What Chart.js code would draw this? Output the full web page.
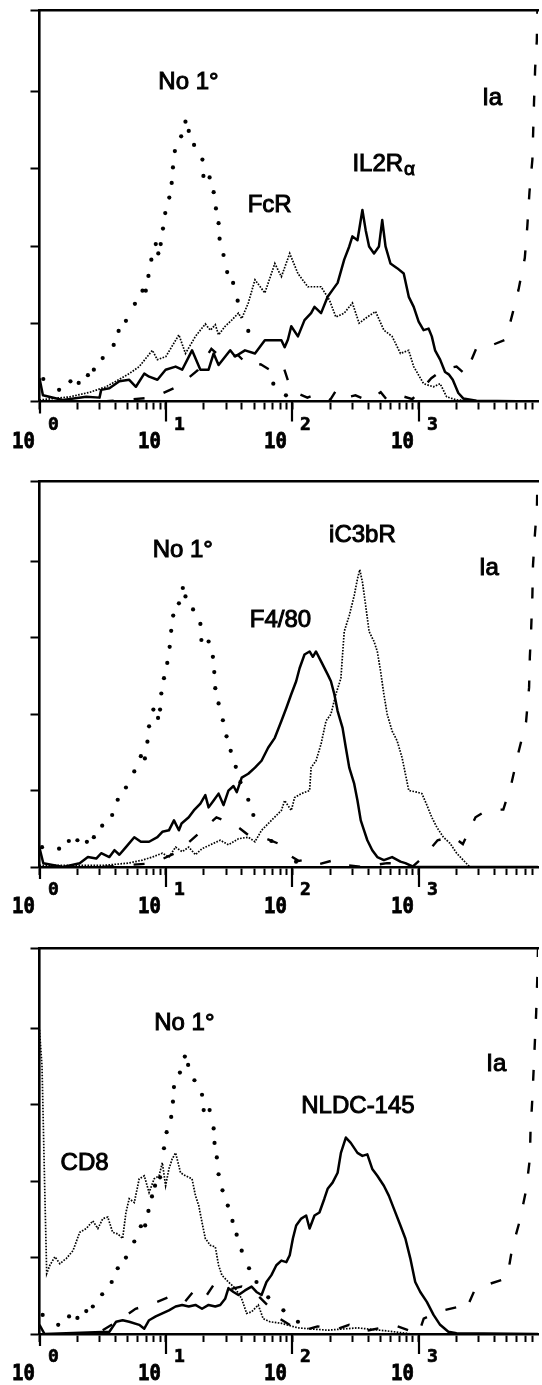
<!DOCTYPE html>
<html>
<head>
<meta charset="utf-8">
<script src="https://cdn.jsdelivr.net/npm/chart.js@4/dist/chart.umd.min.js"></script>
<style>
  html, body { margin: 0; padding: 0; background: #fff; }
  body { width: 542px; height: 1385px; position: relative; overflow: hidden; }
  canvas { position: absolute; left: 0; }
</style>
</head>
<body>
<canvas id="p1" width="542" height="466" style="top:0px"></canvas>
<canvas id="p2" width="542" height="466" style="top:466px"></canvas>
<canvas id="p3" width="542" height="453" style="top:932px"></canvas>
<script>
// each curve: [log10 fluorescence, relative cell number]

// --- top panel: No 1°, FcR, IL2Ra, Ia
const noPrimaryA = [[0.03,0.29],[0.155,0.15],[0.245,0.26],[0.31,0.24],[0.383,0.34],[0.43,0.41],[0.5,0.56],[0.587,0.73],[0.626,0.91],[0.684,1.04],[0.755,1.26],[0.815,1.43],[0.841,1.43],[0.862,1.62],[0.885,1.83],[0.92,2.03],[0.94,1.91],[0.959,2.03],[0.977,2.23],[0.995,2.43],[1.027,2.63],[1.046,2.82],[1.056,3.02],[1.071,3.23],[1.121,3.42],[1.155,3.61],[1.181,3.49],[1.223,3.31],[1.289,3.12],[1.297,2.91],[1.346,2.89],[1.378,2.7],[1.396,2.49],[1.417,2.3],[1.425,2.1],[1.456,1.89],[1.485,1.67],[1.532,1.53],[1.568,1.3],[1.652,0.91],[1.85,0.23],[1.95,0.08]];
const fcrA = [[0.0,0.02],[0.24,0.06],[0.4,0.12],[0.527,0.19],[0.71,0.36],[0.789,0.45],[0.893,0.66],[0.933,0.54],[1.0,0.58],[1.103,0.86],[1.155,0.62],[1.234,0.84],[1.312,1.0],[1.352,0.92],[1.391,0.99],[1.417,0.86],[1.469,0.97],[1.521,1.05],[1.574,1.14],[1.6,1.07],[1.652,1.27],[1.705,1.57],[1.783,1.4],[1.862,1.78],[1.914,1.61],[1.98,1.91],[2.045,1.65],[2.123,1.48],[2.228,1.48],[2.294,1.31],[2.345,1.09],[2.411,1.14],[2.476,1.27],[2.529,1.01],[2.594,1.09],[2.659,1.16],[2.725,0.92],[2.79,0.84],[2.856,0.62],[2.921,0.66],[2.961,0.45],[3.039,0.23],[3.118,0.19],[3.17,0.23],[3.222,0.06],[3.3,0.02],[3.6,0.0]];
const il2rA = [[0.0,0.3],[0.027,0.08],[0.184,0.02],[0.37,0.06],[0.475,0.05],[0.488,0.15],[0.553,0.17],[0.632,0.26],[0.71,0.28],[0.763,0.19],[0.829,0.36],[0.868,0.32],[0.933,0.28],[0.998,0.41],[1.077,0.45],[1.129,0.41],[1.207,0.66],[1.273,0.41],[1.338,0.41],[1.378,0.62],[1.417,0.47],[1.509,0.66],[1.548,0.58],[1.626,0.66],[1.705,0.62],[1.783,0.79],[1.862,0.79],[1.914,0.79],[1.94,0.7],[1.966,0.8],[1.992,0.97],[2.045,0.84],[2.097,1.05],[2.149,1.14],[2.176,1.22],[2.228,1.14],[2.28,1.35],[2.319,1.44],[2.359,1.53],[2.411,1.83],[2.451,2.0],[2.476,2.13],[2.516,2.08],[2.555,2.47],[2.581,2.21],[2.608,2.0],[2.647,1.91],[2.686,2.0],[2.712,2.34],[2.738,2.0],[2.777,1.78],[2.83,1.72],[2.882,1.65],[2.922,1.35],[2.961,1.22],[3.0,1.03],[3.039,0.92],[3.079,0.94],[3.104,0.84],[3.13,0.66],[3.17,0.54],[3.209,0.38],[3.238,0.35],[3.27,0.28],[3.314,0.11],[3.353,0.04],[3.458,0.01],[3.944,0.0]];
const iaA = [[0.5,0.0],[0.9,0.05],[1.1,0.2],[1.25,0.4],[1.36,0.68],[1.45,0.55],[1.57,0.6],[1.66,0.45],[1.75,0.48],[1.85,0.38],[1.93,0.45],[1.98,0.2],[2.05,0.1],[2.12,0.05],[2.2,0.1],[2.3,0.02],[2.35,0.15],[2.42,0.05],[2.5,0.08],[2.6,0.01],[2.7,0.12],[2.75,0.02],[2.85,0.08],[2.95,0.03],[3.02,0.15],[3.1,0.3],[3.2,0.42],[3.3,0.45],[3.37,0.35],[3.46,0.7],[3.57,0.72],[3.69,0.8],[3.744,1.14],[3.79,1.44],[3.84,1.85],[3.86,2.26],[3.877,2.7],[3.9,3.12],[3.913,3.86],[3.922,4.3],[3.935,4.65],[3.945,5.5]];

// --- middle panel: No 1°, F4/80, iC3bR, Ia
const noPrimaryB = [[0.02,0.26],[0.155,0.24],[0.232,0.34],[0.3,0.35],[0.375,0.33],[0.43,0.39],[0.496,0.54],[0.575,0.68],[0.619,0.88],[0.684,1.04],[0.75,1.25],[0.802,1.45],[0.834,1.42],[0.854,1.64],[0.867,1.84],[0.901,2.06],[0.938,1.95],[0.954,2.06],[0.964,2.27],[0.985,2.47],[1.011,2.67],[1.03,2.88],[1.042,3.09],[1.058,3.29],[1.103,3.45],[1.134,3.65],[1.155,3.54],[1.215,3.37],[1.273,3.18],[1.281,2.97],[1.338,2.95],[1.372,2.75],[1.383,2.55],[1.391,2.34],[1.417,2.14],[1.451,1.92],[1.48,1.71],[1.513,1.52],[1.553,1.31],[1.59,1.11],[1.652,0.88],[1.692,0.68],[1.835,0.34],[2.03,0.07]];
const f480B = [[0.0,0.25],[0.03,0.05],[0.187,0.0],[0.318,0.05],[0.383,0.13],[0.449,0.11],[0.488,0.18],[0.553,0.13],[0.593,0.22],[0.632,0.16],[0.684,0.26],[0.75,0.39],[0.802,0.33],[0.867,0.33],[0.933,0.39],[0.972,0.46],[1.024,0.48],[1.064,0.61],[1.103,0.48],[1.124,0.57],[1.181,0.65],[1.221,0.74],[1.273,0.83],[1.312,0.94],[1.338,0.78],[1.378,0.87],[1.417,0.96],[1.456,0.81],[1.495,1.0],[1.535,1.06],[1.561,0.98],[1.6,1.17],[1.652,1.22],[1.705,1.3],[1.757,1.39],[1.809,1.56],[1.862,1.69],[1.914,1.91],[1.953,2.08],[1.992,2.26],[2.031,2.43],[2.058,2.6],[2.097,2.78],[2.137,2.82],[2.163,2.75],[2.188,2.82],[2.228,2.69],[2.28,2.52],[2.306,2.43],[2.333,2.26],[2.359,2.04],[2.398,1.82],[2.424,1.56],[2.451,1.3],[2.49,1.09],[2.516,0.87],[2.542,0.61],[2.568,0.48],[2.594,0.35],[2.633,0.22],[2.673,0.13],[2.725,0.09],[2.79,0.13],[2.856,0.07],[2.895,0.05],[2.961,0.0],[3.944,0.0]];
const ic3brB = [[0.0,0.02],[0.5,0.02],[0.7,0.05],[0.815,0.09],[0.893,0.13],[0.972,0.18],[1.024,0.13],[1.077,0.26],[1.129,0.2],[1.181,0.26],[1.234,0.16],[1.286,0.24],[1.352,0.29],[1.43,0.35],[1.495,0.29],[1.574,0.37],[1.652,0.39],[1.705,0.33],[1.757,0.48],[1.835,0.61],[1.914,0.74],[1.94,0.87],[1.992,0.74],[2.019,0.91],[2.071,0.96],[2.137,1.0],[2.149,1.3],[2.188,1.39],[2.228,1.61],[2.267,1.91],[2.306,2.0],[2.345,2.26],[2.385,2.47],[2.411,3.08],[2.451,3.29],[2.49,3.55],[2.516,3.77],[2.534,3.89],[2.555,3.73],[2.581,3.42],[2.608,3.08],[2.647,2.95],[2.673,2.82],[2.699,2.56],[2.725,2.26],[2.751,2.0],[2.79,1.78],[2.83,1.65],[2.869,1.43],[2.895,1.22],[2.922,1.0],[2.987,0.98],[3.026,0.96],[3.065,0.81],[3.104,0.65],[3.144,0.52],[3.196,0.39],[3.248,0.31],[3.301,0.18],[3.353,0.09],[3.405,0.0],[3.944,0.0]];
const iaB = [[0.5,0.0],[0.9,0.05],[1.1,0.2],[1.3,0.5],[1.4,0.65],[1.55,0.55],[1.65,0.42],[1.78,0.38],[1.9,0.3],[1.98,0.15],[2.05,0.08],[2.12,0.1],[2.2,0.03],[2.35,0.1],[2.45,0.02],[2.55,0.0],[2.75,0.05],[2.82,0.05],[2.95,0.0],[3.05,0.15],[3.15,0.35],[3.27,0.4],[3.35,0.3],[3.45,0.65],[3.55,0.75],[3.67,0.75],[3.735,1.1],[3.79,1.5],[3.85,1.9],[3.874,2.35],[3.88,2.75],[3.89,3.1],[3.9,3.55],[3.905,3.95],[3.92,4.35],[3.936,4.7],[3.945,5.5]];

// --- bottom panel: No 1°, CD8, NLDC-145, Ia
const noPrimaryC = [[0.025,0.25],[0.148,0.12],[0.234,0.23],[0.3,0.21],[0.37,0.3],[0.422,0.36],[0.496,0.52],[0.571,0.68],[0.619,0.86],[0.684,1.0],[0.75,1.21],[0.802,1.41],[0.836,1.42],[0.862,1.61],[0.89,1.8],[0.914,1.94],[0.954,2.05],[0.985,2.43],[1.006,2.64],[1.042,2.84],[1.056,3.04],[1.064,3.23],[1.111,3.42],[1.15,3.63],[1.176,3.52],[1.226,3.32],[1.286,3.13],[1.299,2.93],[1.346,2.93],[1.378,2.69],[1.385,2.5],[1.403,2.31],[1.417,2.09],[1.448,1.88],[1.49,1.68],[1.527,1.48],[1.56,1.3],[1.6,1.09],[1.658,0.86],[1.717,0.68],[1.81,0.48],[1.93,0.31],[2.045,0.16]];
const cd8C = [[0.0,3.98],[0.02,3.5],[0.04,2.0],[0.057,0.79],[0.082,0.9],[0.122,1.01],[0.161,0.92],[0.213,0.99],[0.265,1.09],[0.318,1.33],[0.37,1.38],[0.422,1.48],[0.462,1.38],[0.501,1.51],[0.54,1.53],[0.579,1.33],[0.619,1.31],[0.658,1.25],[0.684,1.59],[0.71,1.77],[0.75,1.72],[0.789,2.03],[0.829,2.07],[0.867,1.85],[0.907,2.03],[0.946,2.07],[0.972,2.24],[0.998,1.94],[1.024,2.16],[1.05,2.29],[1.077,2.37],[1.116,2.11],[1.155,2.07],[1.207,2.03],[1.234,1.81],[1.26,1.68],[1.286,1.46],[1.312,1.25],[1.352,1.16],[1.391,1.14],[1.417,0.9],[1.443,0.77],[1.495,0.68],[1.548,0.6],[1.6,0.46],[1.639,0.27],[1.678,0.29],[1.731,0.38],[1.77,0.2],[1.823,0.16],[1.914,0.14],[2.045,0.08],[2.28,0.05],[2.516,0.08],[2.75,0.04],[2.95,0.0],[3.944,0.0]];
const nldcC = [[0.0,0.12],[0.04,0.0],[0.553,0.03],[0.606,0.16],[0.658,0.18],[0.71,0.16],[0.789,0.12],[0.829,0.07],[0.867,0.18],[0.92,0.23],[0.972,0.27],[1.024,0.31],[1.077,0.36],[1.129,0.38],[1.181,0.36],[1.234,0.38],[1.286,0.33],[1.338,0.38],[1.391,0.36],[1.43,0.38],[1.469,0.46],[1.495,0.6],[1.535,0.55],[1.574,0.51],[1.626,0.57],[1.678,0.62],[1.717,0.55],[1.757,0.51],[1.796,0.68],[1.835,0.77],[1.874,0.9],[1.914,0.96],[1.953,0.94],[1.98,1.03],[2.005,1.25],[2.031,1.42],[2.071,1.51],[2.11,1.55],[2.137,1.38],[2.176,1.55],[2.215,1.59],[2.254,1.77],[2.28,1.9],[2.319,1.98],[2.359,2.11],[2.385,2.37],[2.424,2.57],[2.463,2.5],[2.516,2.37],[2.555,2.33],[2.594,2.35],[2.633,2.16],[2.673,2.07],[2.725,1.94],[2.764,1.81],[2.804,1.64],[2.856,1.42],[2.895,1.25],[2.934,0.99],[2.973,0.68],[3.013,0.55],[3.065,0.42],[3.118,0.25],[3.17,0.12],[3.235,0.03],[3.3,0.01],[3.944,0.0]];
const iaC = [[0.5,0.05],[0.65,0.2],[0.76,0.33],[0.9,0.4],[1.05,0.5],[1.15,0.42],[1.24,0.6],[1.32,0.5],[1.38,0.65],[1.49,0.58],[1.6,0.62],[1.73,0.5],[1.82,0.35],[1.9,0.2],[2.0,0.1],[2.1,0.05],[2.2,0.1],[2.35,0.06],[2.45,0.12],[2.55,0.03],[2.7,0.08],[2.8,0.12],[2.92,0.05],[3.0,0.0],[3.04,0.2],[3.17,0.3],[3.3,0.35],[3.37,0.3],[3.45,0.6],[3.55,0.65],[3.7,0.73],[3.74,1.12],[3.8,1.48],[3.85,1.88],[3.88,2.29],[3.885,2.64],[3.9,3.09],[3.91,3.46],[3.93,4.2],[3.94,4.7],[3.95,5.5]];

// axes
const DECADES = [1, 10, 100, 1000];
const DECADE_EXP = ['0', '1', '2', '3'];
const MANTISSAS = [1, 2, 3, 4, 5, 6, 7, 8, 9];
const Y_TICKS = [0, 1, 2, 3, 4];
const XMAX = 8800;
const YMAX = 5.05;

const X_TICKS = [];
DECADES.forEach(d => MANTISSAS.forEach(m => { if (d * m <= XMAX) X_TICKS.push(d * m); }));

// 'dots' = unconnected channel dots (no primary antibody control)
const LINE = {
  dots:  { showLine: false, pointRadius: 2.1, pointBorderWidth: 0, pointBackgroundColor: '#000' },
  fine:  { borderWidth: 1.7, borderDash: [1.6, 1.4], borderCapStyle: 'butt' },
  solid: { borderWidth: 2.5, borderJoinStyle: 'round' },
  dash:  { borderWidth: 2.4, borderDash: [11, 20], borderCapStyle: 'butt' }
};

const panels = [
  { id: 'p1', top: 10, bottom: 56.5,
    curves: [['No 1°', noPrimaryA, 'dots'], ['FcR', fcrA, 'fine'], ['IL2Ra', il2rA, 'solid'], ['Ia', iaA, 'dash']],
    labels: [{ t: 'No 1°', at: [1.179, 4.03] }, { t: 'FcR', at: [1.821, 2.45] },
             { t: 'IL2R', sub: 'α', at: [2.476, 2.97], align: 'left' }, { t: 'Ia', at: [3.582, 3.83] }] },
  { id: 'p2', top: 15, bottom: 57,
    curves: [['No 1°', noPrimaryB, 'dots'], ['F4/80', f480B, 'solid'], ['iC3bR', ic3brB, 'fine'], ['Ia', iaB, 'dash']],
    labels: [{ t: 'No 1°', at: [1.134, 4.06] }, { t: 'F4/80', at: [1.907, 3.14] },
             { t: 'iC3bR', at: [2.555, 4.25] }, { t: 'Ia', at: [3.556, 3.82] }] },
  { id: 'p3', top: 16, bottom: 43,
    curves: [['No 1°', noPrimaryC, 'dots'], ['CD8', cd8C, 'fine'], ['NLDC-145', nldcC, 'solid'], ['Ia', iaC, 'dash']],
    labels: [{ t: 'No 1°', at: [1.146, 3.98] }, { t: 'CD8', at: [0.357, 2.14] },
             { t: 'NLDC-145', at: [2.52, 2.89] }, { t: 'Ia', at: [3.615, 3.44] }] }
];

function toPoints(pairs) {
  return pairs.map(p => ({ x: Math.pow(10, p[0]), y: p[1] }));
}

// long decade ticks, 10^n labels and the curve names
const decor = {
  id: 'decor',
  afterDraw(chart) {
    const ctx = chart.ctx, xs = chart.scales.x, ys = chart.scales.y, area = chart.chartArea;
    ctx.save();
    ctx.strokeStyle = '#000';
    ctx.fillStyle = '#000';
    DECADES.forEach((d, i) => {
      const px = Math.round(xs.getPixelForValue(d));
      ctx.lineWidth = 2.2;
      ctx.beginPath();
      ctx.moveTo(px, area.bottom);
      ctx.lineTo(px, area.bottom + (i === 0 ? 12 : 20));
      ctx.stroke();
      ctx.lineWidth = 0.7;
      ctx.save();
      ctx.translate(px - 5, area.bottom + 46);
      ctx.scale(1, 1.15);
      ctx.font = 'bold 19px "DejaVu Sans Mono", monospace';
      ctx.textAlign = 'right';
      ctx.fillText('10', 0, 0);
      ctx.strokeText('10', 0, 0);
      ctx.restore();
      ctx.font = 'bold 18px "DejaVu Sans Mono", monospace';
      ctx.textAlign = 'left';
      ctx.fillText(DECADE_EXP[i], px + 8, area.bottom + 28);
      ctx.strokeText(DECADE_EXP[i], px + 8, area.bottom + 28);
    });
    const labels = chart.options.plugins.decor.labels;
    labels.forEach(l => {
      const px = xs.getPixelForValue(Math.pow(10, l.at[0]));
      const py = ys.getPixelForValue(l.at[1]);
      ctx.font = '24px "Liberation Sans", Arial, sans-serif';
      ctx.textAlign = l.align || 'center';
      ctx.lineWidth = 1.0;
      ctx.fillText(l.t, px, py);
      ctx.strokeText(l.t, px, py);
      if (l.sub) {
        const w = ctx.measureText(l.t).width;
        ctx.font = '19px "Liberation Sans", Arial, sans-serif';
        ctx.textAlign = 'left';
        ctx.fillText(l.sub, px + w + 1, py + 4);
        ctx.strokeText(l.sub, px + w + 1, py + 4);
      }
    });
    ctx.restore();
  }
};

panels.forEach(p => {
  new Chart(document.getElementById(p.id), {
    type: 'line',
    data: {
      datasets: p.curves.map(c => Object.assign({
        label: c[0],
        data: toPoints(c[1]),
        borderColor: '#000',
        backgroundColor: '#000',
        pointRadius: 0,
        tension: 0,
        fill: false
      }, LINE[c[2]]))
    },
    options: {
      responsive: false,
      animation: false,
      events: [],
      layout: { padding: { left: 30.5, right: 0, top: p.top, bottom: p.bottom } },
      plugins: { legend: { display: false }, tooltip: { enabled: false }, decor: { labels: p.labels } },
      scales: {
        x: {
          type: 'logarithmic', position: 'bottom', min: 1, max: XMAX,
          afterBuildTicks: s => { s.ticks = X_TICKS.map(v => ({ value: v })); },
          ticks: { display: false },
          grid: { drawOnChartArea: false, drawTicks: true, tickLength: 8, tickWidth: 2, tickColor: '#000' },
          border: { display: true, color: '#000', width: 2.6 }
        },
        x2: {
          axis: 'x', type: 'logarithmic', position: 'top', min: 1, max: XMAX,
          ticks: { display: false },
          grid: { display: false, drawTicks: false },
          border: { display: true, color: '#000', width: 2.6 }
        },
        y: {
          type: 'linear', min: 0, max: YMAX,
          afterBuildTicks: s => { s.ticks = Y_TICKS.concat([YMAX]).map(v => ({ value: v })); },
          ticks: { display: false },
          grid: { drawOnChartArea: false, drawTicks: true, tickLength: 9, tickWidth: 2, tickColor: '#000' },
          border: { display: true, color: '#000', width: 2.6 }
        }
      }
    },
    plugins: [decor]
  });
});
</script>
</body>
</html>
